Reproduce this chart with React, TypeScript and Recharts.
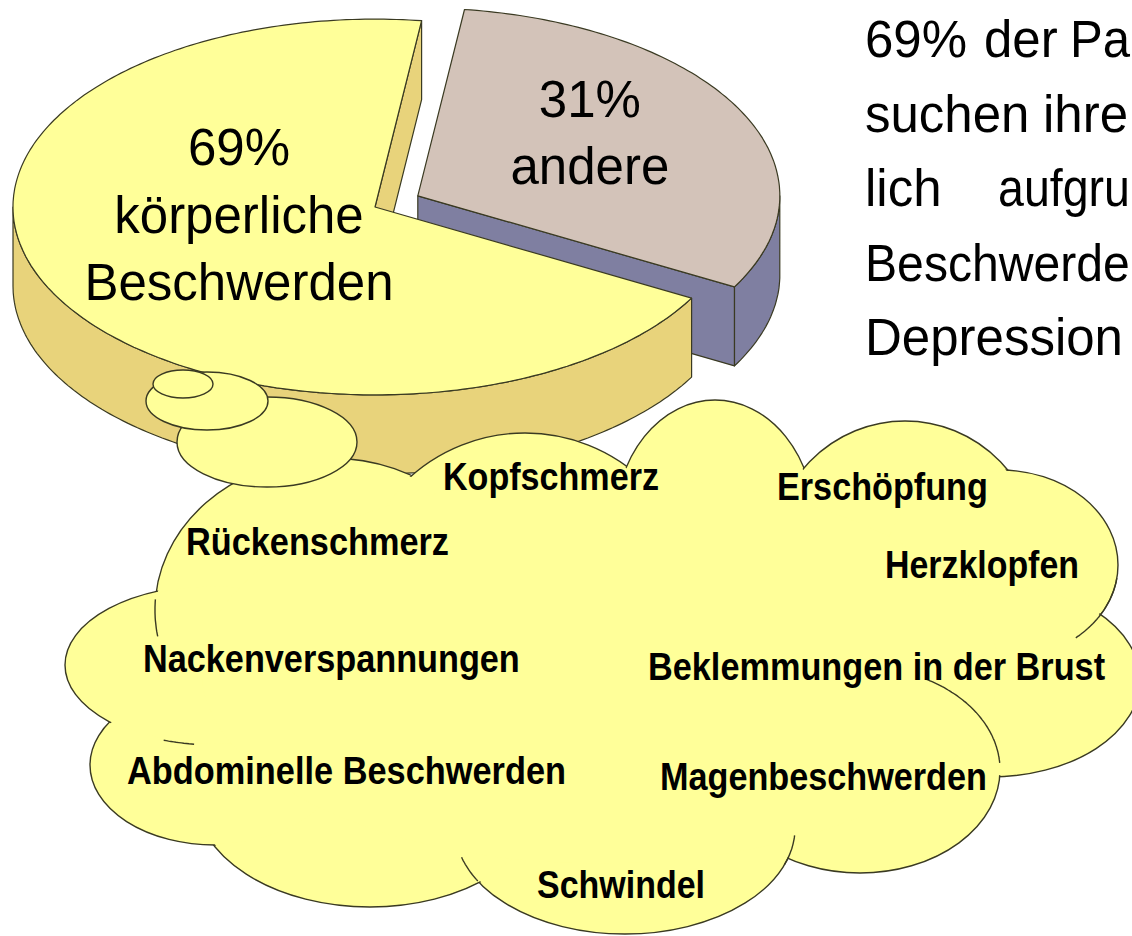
import React from 'react'
import { PieChart, Pie } from 'recharts'

const W = 1132
const H = 936

// shares of the pie
const sliceNames = ['andere', 'körperliche Beschwerden']
const sliceValues = [31, 69]

// complaints in the thought cloud
const symptoms = [
  'Kopfschmerz',
  'Erschöpfung',
  'Rückenschmerz',
  'Herzklopfen',
  'Nackenverspannungen',
  'Beklemmungen in der Brust',
  'Abdominelle Beschwerden',
  'Magenbeschwerden',
  'Schwindel'
]

// text at the right edge of the slide, as far as it is visible there
const sideLines = [
  [`${sliceValues[1]}%`, 'der', 'Pa'],
  ['suchen', 'ihre'],
  ['lich', 'aufgru'],
  ['Beschwerde'],
  ['Depression']
]

const pieData = sliceNames.map((name, i) => ({ name, value: sliceValues[i] }))

// look of the fake 3d pie
const RAD = Math.PI / 180
const TILT = 0.519
const DEPTH = 79
const EXPLODE = [48, 0]
const TOP_COLORS = ['#D3C3B9', '#FFFF99']
const SIDE_COLORS = ['#7F7FA1', '#E8D37B']
const EDGE = '#3a3a22'
const LABEL_OFFSET = [
  { dx: 172, dy: -79 },
  { dx: -136, dy: -42 }
]
const LABEL_STEP = 67.5
const SANS = "'Liberation Sans', Arial, sans-serif"

// cloud drawing
const CLOUD_FILL = '#FFFF99'
const BULBS = [
  { cx: 330, cy: 610, rx: 175, ry: 152 },
  { cx: 525, cy: 605, rx: 172, ry: 172 },
  { cx: 715, cy: 525, rx: 100, ry: 125 },
  { cx: 905, cy: 560, rx: 135, ry: 139 },
  { cx: 1000, cy: 565, rx: 118, ry: 95 },
  { cx: 990, cy: 680, rx: 150, ry: 97 },
  { cx: 860, cy: 770, rx: 140, ry: 103 },
  { cx: 625, cy: 828, rx: 170, ry: 106 },
  { cx: 370, cy: 795, rx: 175, ry: 112 },
  { cx: 215, cy: 765, rx: 125, ry: 80 },
  { cx: 215, cy: 665, rx: 150, ry: 80 },
  { cx: 600, cy: 670, rx: 400, ry: 195 }
]
// inner outline pieces of the cloud: bulb index and arc angles
const TAILS = [
  { b: 6, a0: 62, a1: 4 },
  { b: 4, a0: -8, a1: -50 },
  { b: 7, a0: -150, a1: -164 },
  { b: 7, a0: -20, a1: -4 },
  { b: 0, a0: 176, a1: 190 },
  { b: 10, a0: 250, a1: 262 }
]
const BUBBLES = [
  { cx: 267, cy: 442, rx: 90, ry: 45 },
  { cx: 207, cy: 401, rx: 61, ry: 29 },
  { cx: 183, cy: 384, rx: 30, ry: 14 }
]
const SYMPTOM_AT = [
  { x: 443, y: 490, w: 216 },
  { x: 777, y: 500, w: 211 },
  { x: 186, y: 555, w: 263 },
  { x: 885, y: 578, w: 194 },
  { x: 143, y: 672, w: 377 },
  { x: 648, y: 680, w: 457 },
  { x: 127, y: 784, w: 439 },
  { x: 660, y: 790, w: 327 },
  { x: 537, y: 898, w: 168 }
]
const SIDE_WORD_X = [
  [865, 984, 1070],
  [865, 1043],
  [865, 998],
  [865],
  [865]
]
const SIDE_RIGHT = 1130
const SIDE_TOP = 57
const SIDE_STEP = 74.5

type Pt = [number, number]

function ellPt(cx: number, cy: number, r: number, a: number, dz = 0): Pt {
  return [cx + r * Math.cos(a * RAD), cy - r * TILT * Math.sin(a * RAD) + dz]
}

function arcPts(cx: number, cy: number, r: number, a0: number, a1: number, dz = 0): Pt[] {
  const n = Math.max(2, Math.ceil(Math.abs(a1 - a0)))
  const pts: Pt[] = []
  for (let i = 0; i <= n; i++) pts.push(ellPt(cx, cy, r, a0 + ((a1 - a0) * i) / n, dz))
  return pts
}

const toPath = (pts: Pt[], close = true) =>
  'M' + pts.map((p) => p[0].toFixed(1) + ',' + p[1].toFixed(1)).join('L') + (close ? 'Z' : '')

// canvas measuring, so narrow text can be squeezed with a transform
let ctx: CanvasRenderingContext2D | null = null
function measure(text: string, font: string) {
  if (!ctx) ctx = document.createElement('canvas').getContext('2d')
  if (!ctx) return text.length * 20
  ctx.font = font
  return ctx.measureText(text).width
}

function FitText({ x, y, w, size, weight, children }: any) {
  const natural = measure(children, `${weight || 'normal'} ${size}px "Liberation Sans"`)
  const sx = w / natural
  return (
    <text
      transform={`translate(${x} ${y}) scale(${sx.toFixed(4)} 1)`}
      fontFamily={SANS}
      fontWeight={weight || 'normal'}
      fontSize={size}
      fill="#000"
    >
      {children}
    </text>
  )
}

// draws one slice as a tilted, extruded wedge, using the angles recharts computed
const renderSlice = (props: any) => {
  const { cx, cy, outerRadius, startAngle, endAngle, midAngle, index, value, name } = props
  const r = outerRadius
  const off = EXPLODE[index] || 0
  const x0 = cx + off * Math.cos(midAngle * RAD)
  const y0 = cy - off * TILT * Math.sin(midAngle * RAD)
  const s = Math.min(startAngle, endAngle)
  const e = Math.max(startAngle, endAngle)
  const side = SIDE_COLORS[index]
  const top = TOP_COLORS[index]

  const faces: string[] = []
  // radial cut faces that look towards the viewer
  const radial = (a: number) => {
    const p = ellPt(x0, y0, r, a)
    faces.push(toPath([[x0, y0], p, [p[0], p[1] + DEPTH], [x0, y0 + DEPTH]]))
  }
  if (Math.cos(s * RAD) > 0) radial(s)
  if (Math.cos(e * RAD) < 0) radial(e)

  // front rim
  const rims: string[] = []
  for (const k of [-1, 0, 1]) {
    const lo = Math.max(s, 180 + 360 * k)
    const hi = Math.min(e, 360 + 360 * k)
    if (hi > lo) {
      rims.push(toPath(arcPts(x0, y0, r, lo, hi).concat(arcPts(x0, y0, r, hi, lo, DEPTH))))
    }
  }

  const topPath = toPath([[x0, y0] as Pt].concat(arcPts(x0, y0, r, s, e)))
  const lines = [`${value}%`].concat(String(name).split(' '))
  const lo = LABEL_OFFSET[index]

  return (
    <g key={`slice-${index}`}>
      {faces.map((d, i) => (
        <path key={`f${i}`} d={d} fill={side} stroke={EDGE} strokeWidth={1.2} strokeLinejoin="round" />
      ))}
      {rims.map((d, i) => (
        <path key={`r${i}`} d={d} fill={side} stroke={EDGE} strokeWidth={1.2} strokeLinejoin="round" />
      ))}
      <path d={topPath} fill={top} stroke={EDGE} strokeWidth={1.2} strokeLinejoin="round" />
      {lines.map((t, i) => (
        <text
          key={`t${i}`}
          x={x0 + lo.dx}
          y={y0 + lo.dy + i * LABEL_STEP}
          textAnchor="middle"
          fontFamily={SANS}
          fontSize={51}
          fill="#000"
        >
          {t}
        </text>
      ))}
    </g>
  )
}

function ellipseArc(b: { cx: number; cy: number; rx: number; ry: number }, a0: number, a1: number) {
  const n = Math.ceil(Math.abs(a1 - a0))
  const pts: Pt[] = []
  for (let i = 0; i <= n; i++) {
    const a = (a0 + ((a1 - a0) * i) / n) * RAD
    pts.push([b.cx + b.rx * Math.cos(a), b.cy - b.ry * Math.sin(a)])
  }
  return toPath(pts, false)
}

export default function App() {
  return (
    <div
      style={{
        position: 'absolute',
        left: 0,
        top: 0,
        width: W,
        height: H,
        overflow: 'hidden',
        background: '#fff'
      }}
    >
      <PieChart width={W} height={H} margin={{ top: 0, right: 0, bottom: 0, left: 0 }}>
        <Pie
          data={pieData}
          dataKey="value"
          nameKey="name"
          cx={375}
          cy={207}
          outerRadius={362}
          startAngle={-29}
          endAngle={331}
          fill="none"
          stroke="none"
          label={renderSlice}
          labelLine={false}
          isAnimationActive={false}
        />
      </PieChart>

      <svg
        width={W}
        height={H}
        style={{ position: 'absolute', left: 0, top: 0, pointerEvents: 'none' }}
      >
        {/* cloud: outlined bulbs, then the same bulbs without outline to hide inner lines */}
        <g>
          {BULBS.map((b, i) => (
            <ellipse key={i} cx={b.cx} cy={b.cy} rx={b.rx} ry={b.ry} fill={CLOUD_FILL} stroke={EDGE} strokeWidth={1.4} />
          ))}
        </g>
        <g>
          {BULBS.map((b, i) => (
            <ellipse key={i} cx={b.cx} cy={b.cy} rx={b.rx - 1.5} ry={b.ry - 1.5} fill={CLOUD_FILL} />
          ))}
        </g>
        <g fill="none" stroke={EDGE} strokeWidth={1.4}>
          {TAILS.map((t, i) => (
            <path key={i} d={ellipseArc(BULBS[t.b], t.a0, t.a1)} />
          ))}
        </g>
        {BUBBLES.map((b, i) => (
          <ellipse key={i} cx={b.cx} cy={b.cy} rx={b.rx} ry={b.ry} fill={CLOUD_FILL} stroke={EDGE} strokeWidth={1.4} />
        ))}

        {symptoms.map((s, i) => (
          <FitText key={s} x={SYMPTOM_AT[i].x} y={SYMPTOM_AT[i].y} w={SYMPTOM_AT[i].w} size={38} weight="bold">
            {s}
          </FitText>
        ))}

        {sideLines.map((words, i) =>
          words.map((w, j) => {
            const x = SIDE_WORD_X[i][j]
            const natural = measure(w, '51px "Liberation Sans"')
            const width = Math.min(natural, SIDE_RIGHT - x)
            return (
              <FitText key={`${i}-${j}`} x={x} y={SIDE_TOP + i * SIDE_STEP} w={width} size={51}>
                {w}
              </FitText>
            )
          })
        )}
      </svg>
    </div>
  )
}
